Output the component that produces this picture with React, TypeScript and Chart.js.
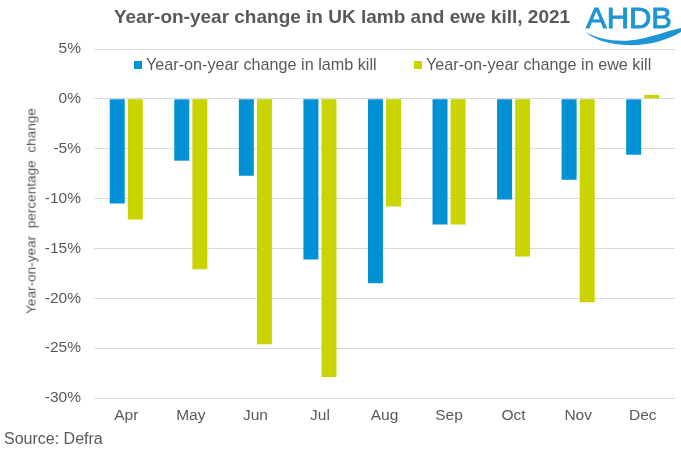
import React, { useEffect, useRef } from "react";
import { Chart, registerables } from "chart.js";

Chart.register(...registerables);

const months = ["Apr", "May", "Jun", "Jul", "Aug", "Sep", "Oct", "Nov", "Dec"];
const lambChange = [-10.5, -6.2, -7.7, -16.1, -18.5, -12.6, -10.1, -8.1, -5.6];
const eweChange = [-12.1, -17.1, -24.6, -27.9, -10.8, -12.6, -15.8, -20.4, 0.4];
const seriesNames = ["Year-on-year change in lamb kill", "Year-on-year change in ewe kill"];
const seriesColors = ["#0091D5", "#C9D400"];
const yMin = -30;
const yMax = 5;
const yStep = 5;

const FONT = "'Liberation Sans', Arial, sans-serif";
const GREY = "#595959";

export default function App() {
  const ref = useRef<HTMLCanvasElement>(null);
  useEffect(() => {
    if (!ref.current) return;
    const chart = new Chart(ref.current, {
      type: "bar",
      data: {
        labels: months,
        datasets: [
          { label: seriesNames[0], data: lambChange, backgroundColor: seriesColors[0], categoryPercentage: 0.56, barPercentage: 0.83 },
          { label: seriesNames[1], data: eweChange, backgroundColor: seriesColors[1], categoryPercentage: 0.56, barPercentage: 0.83 },
        ],
      },
      options: {
        animation: false,
        responsive: false,
        maintainAspectRatio: false,
        layout: { padding: { top: 49, right: 6, left: 0, bottom: 0 } },
        plugins: { legend: { display: false }, tooltip: { enabled: false }, title: { display: false } },
        scales: {
          x: {
            grid: { display: false, drawTicks: false },
            border: { display: false },
            ticks: { color: GREY, font: { family: FONT, size: 15.5 }, padding: 8 },
            afterFit: (s: any) => { s.height = 56; },
          },
          y: {
            min: yMin,
            max: yMax,
            grid: { color: "#D9D9D9", lineWidth: 1, drawTicks: false },
            border: { display: false },
            ticks: {
              stepSize: yStep,
              color: GREY,
              font: { family: FONT, size: 15.5 },
              padding: 13,
              callback: (v: any) => `${v}%`,
            },
            afterFit: (s: any) => { s.width = 94; },
          },
        },
      },
    });
    return () => chart.destroy();
  }, []);

  return (
    <div style={{ position: "absolute", left: 0, top: 0, width: 681, height: 454, background: "#fff", fontFamily: FONT }}>
      <canvas ref={ref} width={681} height={454} style={{ position: "absolute", left: 0, top: 0, width: 681, height: 454 }} />
      <div style={{ position: "absolute", left: 0, width: 684, top: 6, textAlign: "center", fontWeight: "bold", fontSize: 19, color: GREY, whiteSpace: "nowrap" }}>
        Year-on-year change in UK lamb and ewe kill, 2021
      </div>
      <div style={{ position: "absolute", left: 31, top: 211, width: 0, height: 0 }}>
        <div style={{ position: "absolute", left: 0, top: 0, transform: "translate(-50%, -50%) rotate(-90deg)", fontSize: 13.6, color: GREY, whiteSpace: "pre" }}>
          Year-on-year  percentage  change
        </div>
      </div>
      <svg style={{ position: "absolute", left: 560, top: 0 }} width={121} height={50} viewBox="0 0 121 50">
        <text x={26} y={28} fontFamily={FONT} fontSize={30} fill="#1E96D3" stroke="#1E96D3" strokeWidth={0.9} textLength={86} lengthAdjust="spacingAndGlyphs">AHDB</text>
        <path d="M 25 32 C 40 40, 60 43, 80 39 C 95 36, 110 30, 121 28 L 121 32 C 106 41, 86 46, 66 45 C 48 44, 35 40, 25 32 Z" fill="#1E96D3" />
      </svg>
      <div style={{ position: "absolute", left: 134, top: 55, display: "flex", alignItems: "center", fontSize: 16.2, color: GREY, whiteSpace: "nowrap" }}>
        <span style={{ display: "inline-block", width: 8, height: 8, background: seriesColors[0], marginRight: 4 }} />
        <span>{seriesNames[0]}</span>
      </div>
      <div style={{ position: "absolute", left: 414, top: 55, display: "flex", alignItems: "center", fontSize: 16.2, color: GREY, whiteSpace: "nowrap" }}>
        <span style={{ display: "inline-block", width: 8, height: 8, background: seriesColors[1], marginRight: 4 }} />
        <span>{seriesNames[1]}</span>
      </div>
      <div style={{ position: "absolute", left: 4, top: 430, fontSize: 16, color: GREY }}>Source: Defra</div>
    </div>
  );
}
